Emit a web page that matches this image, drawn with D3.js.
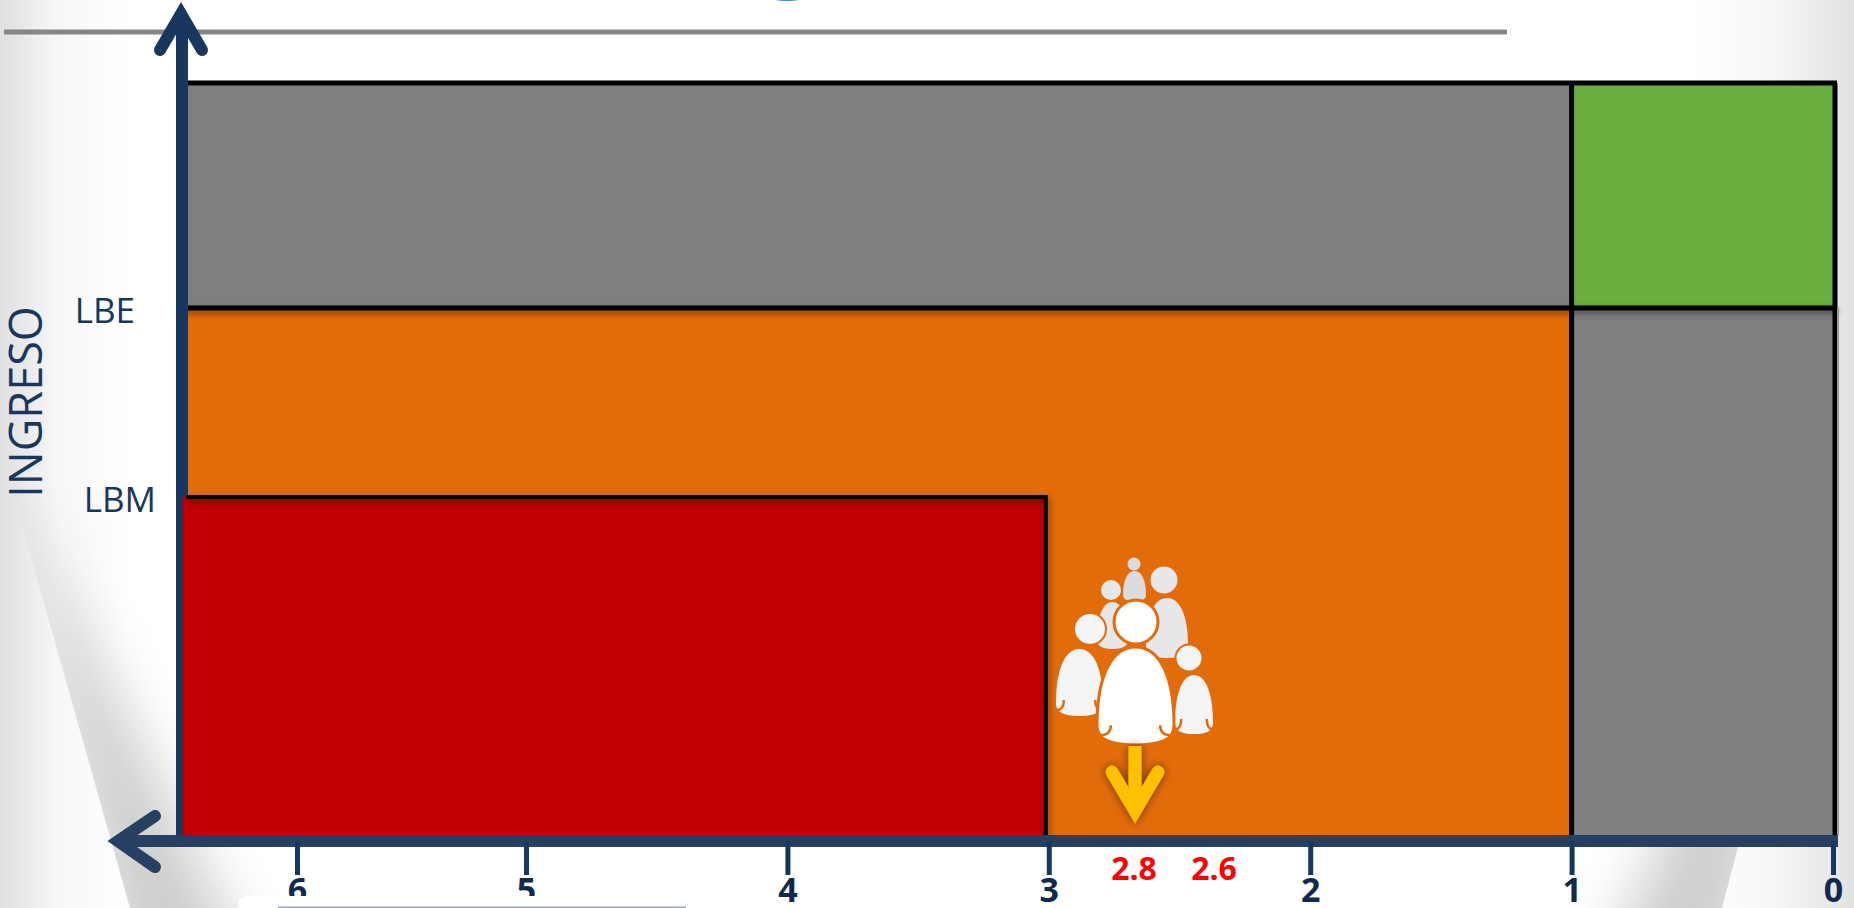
<!DOCTYPE html>
<html>
<head>
<meta charset="utf-8">
<script src="https://cdn.jsdelivr.net/npm/d3@7"></script>
<style>
    html, body { margin: 0; padding: 0; background: #fff; overflow: hidden; }
    svg { display: block; }
    text { font-family: "Open Sans", "Noto Sans", sans-serif; }
</style>
</head>
<body>
<div id="chart"></div>
<script>
// Deprivation axis runs right to left
const xTickValues = [6, 5, 4, 3, 2, 1, 0];
const xOrigin = 6.5;
const estimateLabels = ["2.8", "2.6"];

// Income levels, bottom to top
const incomeLevels = ["base", "LBM", "LBE", "top"];
const incomeLabels = ["LBM", "LBE"];

// Regions of the chart
const regionFrom = [xOrigin, 1, xOrigin, 1, xOrigin];
const regionTo = [1, 0, 1, 0, 3];
const regionLow = ["LBE", "LBE", "base", "base", "base"];
const regionHigh = ["top", "top", "LBE", "LBE", "LBM"];
const regionColors = ["#7f7f7f", "#6aae3f", "#e36c0a", "#7f7f7f", "#c00000"];

const width = 1854;
const height = 908;

// Spacing of the printed axis is uneven between 5 and 6
const x = d3.scaleLinear().domain([0, 5, 6]).range([1833, 526, 297]);
const y = d3.scaleOrdinal().domain(incomeLevels).range([835, 497, 308, 83]);
const xEstimate = d3.scaleLinear().domain([2.8, 2.6]).range([1134, 1214]);

const svg = d3.select("#chart")
    .append("svg")
    .attr("width", width)
    .attr("height", height);

const defs = svg.append("defs");

function addGradient(id, x1, y1, x2, y2, stops) {
    const g = defs.append("linearGradient")
        .attr("id", id)
        .attr("gradientUnits", "userSpaceOnUse")
        .attr("x1", x1).attr("y1", y1)
        .attr("x2", x2).attr("y2", y2);
    stops.forEach(s => {
        g.append("stop").attr("offset", s[0]).attr("stop-color", s[1]);
    });
}

addGradient("edgeLeft", 0, 0, 130, 0, [[0, "#e0e0e0"], [0.45, "#f7f7f7"], [1, "#ffffff"]]);
addGradient("edgeRight", 1854, 0, 1690, 0, [[0, "#e2e2e2"], [0.5, "#f7f7f7"], [1, "#ffffff"]]);

// Filters work on the whole page, a straight line has an empty box
function addFilter(id, dx, dy, blur, opacity) {
    defs.append("filter")
        .attr("id", id)
        .attr("filterUnits", "userSpaceOnUse")
        .attr("x", 0).attr("y", 0)
        .attr("width", width).attr("height", height)
        .append("feDropShadow")
        .attr("dx", dx).attr("dy", dy)
        .attr("stdDeviation", blur)
        .attr("flood-color", "#000")
        .attr("flood-opacity", opacity);
}
addFilter("shadow", 2, 3, 3, 0.45);
addFilter("glow", 0, 0, 5, 0.55);

defs.append("filter")
    .attr("id", "soft")
    .attr("filterUnits", "userSpaceOnUse")
    .attr("x", 0).attr("y", 0)
    .attr("width", width).attr("height", height + 200)
    .append("feGaussianBlur")
    .attr("stdDeviation", 28);

defs.append("clipPath").attr("id", "clipLeft")
    .append("path").attr("d", "M13,493 L130,908 L500,908 L500,400 Z");
defs.append("clipPath").attr("id", "clipRight")
    .append("path").attr("d", "M1853,410 L1722,908 L1400,908 L1400,400 Z");

// Slide background
const background = svg.append("g");
background.append("rect").attr("width", width).attr("height", height).attr("fill", "#fff");
background.append("rect").attr("width", 130).attr("height", height).attr("fill", "url(#edgeLeft)");
background.append("rect").attr("x", 1690).attr("width", 164).attr("height", height).attr("fill", "url(#edgeRight)");
background.append("g").attr("clip-path", "url(#clipLeft)")
    .append("path")
    .attr("d", "M13,493 L130,1000 L270,1000 Z")
    .attr("fill", "#cdcdcd")
    .attr("filter", "url(#soft)");
background.append("g").attr("clip-path", "url(#clipRight)")
    .append("path")
    .attr("d", "M1853,410 L1722,1000 L1590,1000 Z")
    .attr("fill", "#cdcdcd")
    .attr("filter", "url(#soft)");

// Header remains
svg.append("ellipse")
    .attr("cx", 787).attr("cy", -3)
    .attr("rx", 18).attr("ry", 4)
    .attr("fill", "#2a8fc0");
svg.append("rect")
    .attr("x", 4).attr("y", 29.5)
    .attr("width", 1503).attr("height", 5)
    .attr("fill", "#868686");

// Colored regions, the red one goes on top of the y axis
const regions = regionFrom.map((from, i) => ({
    from,
    to: regionTo[i],
    low: regionLow[i],
    high: regionHigh[i],
    color: regionColors[i]
}));

function drawRegion(sel) {
    sel.append("rect")
        .attr("x", d => x(d.from))
        .attr("y", d => y(d.high))
        .attr("width", d => x(d.to) - x(d.from) + (d.to === 0 ? 2 : d.to === 3 ? -3 : 0))
        .attr("height", d => y(d.low) - y(d.high))
        .attr("fill", d => d.color);
}

regions.slice(0, 4).forEach(d => svg.datum(d).call(drawRegion));

// Border lines
const borders = svg.append("g")
    .attr("stroke", "#000")
    .attr("stroke-width", 5)
    .attr("fill", "none");

function border(parent, x1, y1, x2, y2) {
    parent.append("line")
        .attr("x1", x1).attr("y1", y1)
        .attr("x2", x2).attr("y2", y2);
}

svg.append("line")
    .attr("x1", x(0) + 5).attr("x2", x(0) + 5)
    .attr("y1", y("LBE")).attr("y2", y("base"))
    .attr("stroke", "#9a9a9a")
    .attr("stroke-width", 2);

border(borders.append("g").attr("filter", "url(#shadow)"), x(xOrigin), y("LBE"), x(0) + 3, y("LBE"));
border(borders, x(xOrigin), y("top"), x(0) + 4, y("top"));
border(borders, x(1), y("top"), x(1), y("base"));
border(borders, x(0) + 2, y("top"), x(0) + 2, y("base"));

// Y axis with arrow head
const axisBlue = "#17375e";
const yAxis = svg.append("g")
    .attr("fill", "none")
    .attr("stroke", axisBlue)
    .attr("stroke-width", 12);
yAxis.append("line")
    .attr("x1", 182).attr("x2", 182)
    .attr("y1", 14).attr("y2", y("base"));
yAxis.append("path")
    .attr("d", "M160,50 L181,14 L202,50")
    .attr("stroke-linecap", "round")
    .attr("stroke-miterlimit", 10);

// Red region and its border
const redRegion = regions[4];
svg.datum(redRegion).call(drawRegion);
const redBorder = svg.append("g")
    .attr("stroke", "#000")
    .attr("stroke-width", 4)
    .attr("fill", "none")
    .attr("filter", "url(#shadow)");
redBorder.append("path")
    .attr("d", `M${x(xOrigin) + 4},${y("LBM")} H${x(3) - 3} V${y("base")}`);

// X axis
const xLine = "#254061";
const xAxisBar = svg.append("g")
    .attr("fill", "none")
    .attr("stroke", xLine)
    .attr("stroke-width", 12);
xAxisBar.append("line")
    .attr("x1", 118).attr("x2", x(0) + 5)
    .attr("y1", 841).attr("y2", 841);
xAxisBar.append("path")
    .attr("d", "M155,816 L118,841 L155,867")
    .attr("stroke-linecap", "round")
    .attr("stroke-miterlimit", 10);

const xAxis = svg.append("g")
    .attr("transform", "translate(0,841)")
    .call(d3.axisBottom(x).tickValues(xTickValues).tickSize(34).tickSizeOuter(0).tickPadding(3).tickFormat(d3.format("d")));
xAxis.select(".domain").remove();
xAxis.selectAll(".tick line")
    .attr("stroke", axisBlue)
    .attr("stroke-width", 5);
xAxis.selectAll(".tick text")
    .attr("fill", "#10294f")
    .style("font-family", '"Open Sans", sans-serif')
    .style("font-size", "34px")
    .style("font-weight", "700");

// Panel below the chart hides the bottom of the 6 and 5
svg.append("rect")
    .attr("x", 238).attr("y", 896)
    .attr("width", 462).attr("height", 14)
    .attr("rx", 10)
    .attr("fill", "#fff");
svg.append("line")
    .attr("x1", 278).attr("x2", 686)
    .attr("y1", 907.5).attr("y2", 907.5)
    .attr("stroke", "#8fa5cc")
    .attr("stroke-width", 2);

// Estimates in red
svg.append("g")
    .selectAll("text")
    .data(estimateLabels)
    .join("text")
    .attr("x", d => xEstimate(+d))
    .attr("y", 880)
    .attr("text-anchor", "middle")
    .attr("fill", "#ff0000")
    .style("font-size", "32px")
    .style("font-weight", "700")
    .text(d => d);

// Income labels
svg.append("g")
    .selectAll("text")
    .data(incomeLabels)
    .join("text")
    .attr("x", d => d === "LBM" ? 156 : 135)
    .attr("y", d => y(d) + 15)
    .attr("text-anchor", "end")
    .attr("fill", axisBlue)
    .style("font-size", "35px")
    .text(d => d);

svg.append("text")
    .attr("transform", "translate(42,402) rotate(-90)")
    .attr("text-anchor", "middle")
    .attr("fill", axisBlue)
    .style("font-size", "45px")
    .text("INGRESO");

// People icon
function bodyPath(x0, y0, x1, y1) {
    const w = x1 - x0;
    const h = y1 - y0;
    const mid = (x0 + x1) / 2;
    return `M${x0},${y0 + h * 0.8}
        C${x0},${y0 + h * 0.28} ${x0 + w * 0.2},${y0} ${mid},${y0}
        C${x1 - w * 0.2},${y0} ${x1},${y0 + h * 0.28} ${x1},${y0 + h * 0.8}
        C${x1},${y0 + h * 0.95} ${x1 - w * 0.18},${y1} ${mid},${y1}
        C${x0 + w * 0.18},${y1} ${x0},${y0 + h * 0.95} ${x0},${y0 + h * 0.8} Z`;
}

function person(parent, p) {
    parent.append("path")
        .attr("d", bodyPath(p.x0, p.y0, p.x1, p.y1))
        .attr("fill", p.fill)
        .attr("stroke", p.line ? "#e36c0a" : "none")
        .attr("stroke-width", p.line || 0);
    parent.append("circle")
        .attr("cx", p.cx).attr("cy", p.cy).attr("r", p.r)
        .attr("fill", p.fill)
        .attr("stroke", p.line ? "#e36c0a" : "none")
        .attr("stroke-width", p.line || 0);
    if (p.marks) {
        const w = p.x1 - p.x0;
        const base = p.y1 - (p.y1 - p.y0) * 0.1;
        parent.append("path")
            .attr("d", `M${p.x0 + w * 0.04},${base} Q${p.x0 + w * 0.18},${base} ${p.x0 + w * 0.18},${base - 10}`)
            .attr("fill", "none")
            .attr("stroke", "#e36c0a")
            .attr("stroke-width", 2.5);
        parent.append("path")
            .attr("d", `M${p.x1 - w * 0.04},${base} Q${p.x1 - w * 0.18},${base} ${p.x1 - w * 0.18},${base - 10}`)
            .attr("fill", "none")
            .attr("stroke", "#e36c0a")
            .attr("stroke-width", 2.5);
    }
}

const icon = svg.append("g");
const people = [
    { cx: 1134, cy: 564, r: 6.5, x0: 1123, y0: 571, x1: 1146, y1: 601, fill: "#dcdcdc" },
    { cx: 1111, cy: 590, r: 10, x0: 1097, y0: 602, x1: 1128, y1: 649, fill: "#e6e7e9" },
    { cx: 1164, cy: 580, r: 13.5, x0: 1146, y0: 598, x1: 1188, y1: 658, fill: "#e6e7e9" },
    { cx: 1090, cy: 629, r: 16, x0: 1055, y0: 648, x1: 1104, y1: 717, fill: "#f3f4f6", line: 2, marks: true },
    { cx: 1189, cy: 658, r: 13.5, x0: 1174, y0: 674, x1: 1214, y1: 735, fill: "#f3f4f6", line: 2, marks: true },
    { cx: 1136, cy: 622, r: 22, x0: 1097, y0: 647, x1: 1174, y1: 745, fill: "#ffffff", line: 3, marks: true }
];
people.forEach(p => person(icon, p));

// Yellow arrow below the icon
const downArrow = svg.append("g")
    .attr("fill", "none")
    .attr("stroke", "#ffc000")
    .attr("stroke-width", 13)
    .attr("filter", "url(#glow)");
downArrow.append("line")
    .attr("x1", 1135).attr("x2", 1135)
    .attr("y1", 746).attr("y2", 810);
downArrow.append("path")
    .attr("d", "M1112,772 L1135,811 L1158,772")
    .attr("stroke-linecap", "round")
    .attr("stroke-miterlimit", 10);
</script>
</body>
</html>
